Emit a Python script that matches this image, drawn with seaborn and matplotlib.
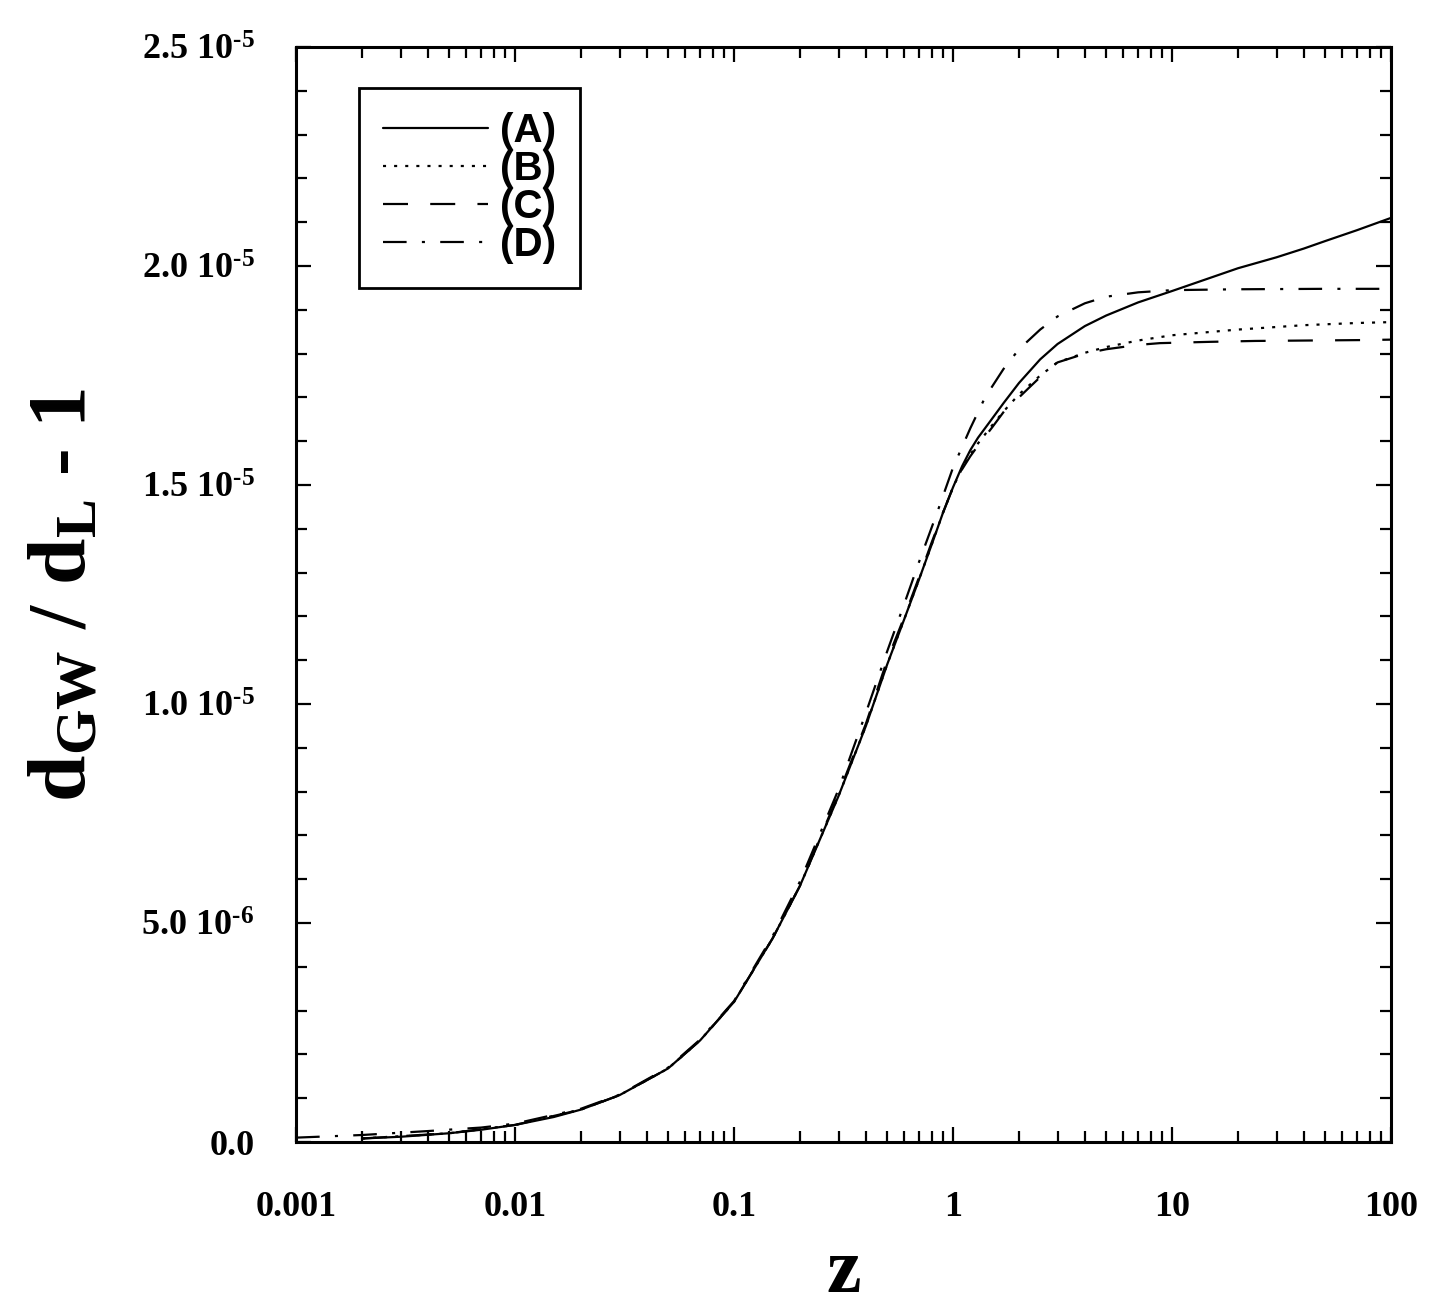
import numpy as np
import pandas as pd
import matplotlib
matplotlib.use('Agg')
import matplotlib.pyplot as plt
import seaborn as sns
from matplotlib.ticker import LogLocator, MultipleLocator, FixedLocator, FixedFormatter, NullFormatter

# curve values (in units of 1e-6)
z_A = [0.002, 0.003, 0.005, 0.007, 0.01, 0.015, 0.02, 0.03, 0.05, 0.07, 0.1, 0.15, 0.2,
       0.3, 0.4, 0.5, 0.6, 0.7, 0.8, 0.9, 1.0, 1.1, 1.2, 1.3, 1.5, 1.7, 2.0, 2.5, 3.0, 4.0,
       5.0, 7.0, 10.0, 20.0, 30.0, 40.0, 50.0, 70.0, 100.0]
y_A = [0.08, 0.12, 0.2, 0.28, 0.39, 0.57, 0.74, 1.07, 1.68, 2.32, 3.2, 4.65, 5.85,
       7.9, 9.5, 10.9, 11.95, 12.85, 13.65, 14.37, 14.95, 15.43, 15.8, 16.08, 16.5, 16.87, 17.33, 17.87, 18.22, 18.63,
       18.87, 19.17, 19.43, 19.95, 20.2, 20.4, 20.57, 20.82, 21.1]

z_B = [0.002, 0.005, 0.01, 0.02, 0.03, 0.05, 0.07, 0.1, 0.15, 0.2, 0.3, 0.4, 0.5, 0.6, 0.7,
       0.8, 0.9, 1.0, 1.1, 1.2, 1.3, 1.5, 1.7, 2.0, 2.5, 3.0, 4.0, 5.0, 7.0, 10.0, 20.0, 40.0,
       70.0, 100.0]
y_B = [0.08, 0.2, 0.39, 0.74, 1.07, 1.68, 2.32, 3.2, 4.65, 5.85, 7.9, 9.5, 10.9, 11.95, 12.85,
       13.65, 14.37, 14.95, 15.38, 15.7, 15.95, 16.35, 16.68, 17.07, 17.5, 17.8, 18.02, 18.15, 18.3, 18.42, 18.55, 18.65,
       18.7, 18.72]

z_C = [0.002, 0.005, 0.01, 0.02, 0.03, 0.05, 0.07, 0.1, 0.15, 0.2, 0.3, 0.4, 0.5, 0.6, 0.7,
       0.8, 0.9, 1.0, 1.1, 1.2, 1.3, 1.5, 1.75, 2.0, 2.2, 2.8, 3.0, 4.0, 5.0, 7.0, 8.8, 15.0,
       24.0, 74.0, 100.0]
y_C = [0.08, 0.2, 0.39, 0.74, 1.07, 1.68, 2.32, 3.2, 4.65, 5.85, 7.95, 9.55, 11.0, 12.0, 12.9,
       13.7, 14.37, 14.95, 15.36, 15.66, 15.9, 16.3, 16.75, 17.0, 17.2, 17.7, 17.8, 18.0, 18.1, 18.2, 18.24, 18.27,
       18.29, 18.31, 18.32]

z_D = [0.001, 0.002, 0.004, 0.007, 0.01, 0.02, 0.03, 0.05, 0.07, 0.1, 0.15, 0.2, 0.3, 0.4,
       0.5, 0.6, 0.7, 0.85, 1.0, 1.2, 1.4, 1.7, 2.0, 2.5, 3.0, 4.0, 5.0, 7.0, 10.0, 20.0,
       50.0, 100.0]
y_D = [0.1, 0.16, 0.25, 0.33, 0.42, 0.76, 1.08, 1.7, 2.34, 3.22, 4.7, 5.95, 8.05, 9.8,
       11.2, 12.3, 13.25, 14.4, 15.4, 16.3, 17.0, 17.65, 18.1, 18.55, 18.85, 19.15, 19.3, 19.4, 19.45, 19.47,
       19.48, 19.48]

labels = ['(A)', '(B)', '(C)', '(D)']
styles = ['-', (0, (2.2, 5.8)), (0, (18, 16)), (0, (17, 11, 2.2, 11))]

ytick_vals = [0, 5e-6, 1e-5, 1.5e-5, 2e-5, 2.5e-5]
ytick_labels = ['0.0', r'5.0 10$^{\text{-6}}$', r'1.0 10$^{\text{-5}}$', r'1.5 10$^{\text{-5}}$',
                r'2.0 10$^{\text{-5}}$', r'2.5 10$^{\text{-5}}$']
xtick_vals = [0.001, 0.01, 0.1, 1, 10, 100]
xtick_labels = ['0.001', '0.01', '0.1', '1', '10', '100']

sns.set_style('ticks')
plt.rcParams['font.family'] = ['Liberation Serif', 'DejaVu Serif']
plt.rcParams['font.weight'] = 'bold'
plt.rcParams['mathtext.default'] = 'regular'
plt.rcParams['mathtext.fontset'] = 'custom'
plt.rcParams['mathtext.rm'] = 'Liberation Serif:bold'
plt.rcParams['lines.scale_dashes'] = False
for key in ['text.color', 'axes.labelcolor', 'xtick.color', 'ytick.color', 'axes.edgecolor']:
    plt.rcParams[key] = 'black'

fig = plt.figure(figsize=(14.4, 13.11), dpi=100)
ax = fig.add_axes([0.2056, 0.1289, 0.7604, 0.8352])

curves = [(z_A, y_A), (z_B, y_B), (z_C, y_C), (z_D, y_D)]
for (zz, yy), lab, ls in zip(curves, labels, styles):
    df = pd.DataFrame({'z': zz, 'v': np.array(yy) * 1e-6})
    sns.lineplot(data=df, x='z', y='v', ax=ax, color='black', linewidth=1.6,
                 linestyle=ls, label=lab)

ax.set_xscale('log')
ax.set_xlim(0.001, 100)
ax.set_ylim(0, 2.5e-5)

ax.xaxis.set_major_locator(FixedLocator(xtick_vals))
ax.xaxis.set_major_formatter(FixedFormatter(xtick_labels))
ax.xaxis.set_minor_locator(LogLocator(base=10, subs=np.arange(2, 10), numticks=20))
ax.xaxis.set_minor_formatter(NullFormatter())
ax.yaxis.set_major_locator(FixedLocator(ytick_vals))
ax.yaxis.set_major_formatter(FixedFormatter(ytick_labels))
ax.yaxis.set_minor_locator(MultipleLocator(1e-6))

ax.tick_params(which='both', direction='in', top=True, right=True, width=1.6, color='black')
ax.tick_params(which='major', length=11)
ax.tick_params(which='minor', length=8)
ax.tick_params(axis='x', which='major', labelsize=26, pad=35, labelcolor='black')
ax.tick_params(axis='y', which='major', labelsize=26, pad=30, labelcolor='black')
for lab in ax.get_xticklabels() + ax.get_yticklabels():
    lab.set_fontweight('bold')
for sp in ax.spines.values():
    sp.set_linewidth(2.2)
    sp.set_color('black')

ax.set_xlabel('z', fontsize=56, fontweight='bold', labelpad=10, color='black')
ax.set_ylabel(r'd$_{GW}$ / d$_L$ - 1', fontsize=60, fontweight='bold', labelpad=28, color='black')

leg = ax.legend(loc='upper left', bbox_to_anchor=(0.0575, 0.9626), frameon=True,
                fancybox=False, framealpha=1, handlelength=2.6, handletextpad=0.3,
                labelspacing=0.0, borderpad=0.6, borderaxespad=0,
                prop={'family': 'Liberation Sans', 'weight': 'bold', 'size': 29})
leg.get_frame().set_edgecolor('black')
leg.get_frame().set_linewidth(2.0)
for txt in leg.get_texts():
    txt.set_color('black')
for line in leg.get_lines():
    line.set_linewidth(1.6)

fig.savefig('out.png', dpi=100)
